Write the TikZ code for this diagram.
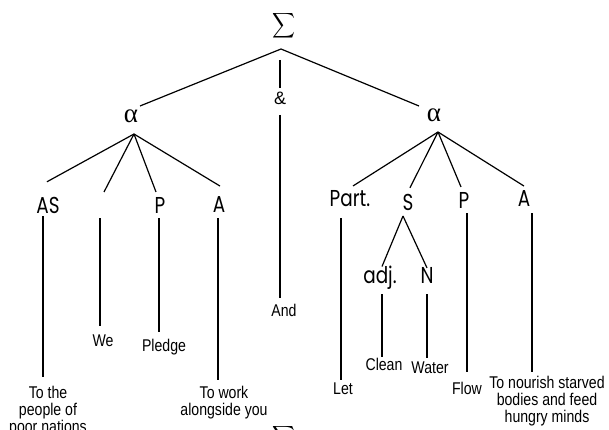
\documentclass[tikz,border=0pt]{standalone}
\usepackage{fontspec}
\usetikzlibrary{calc}
\newfontfamily\leaffont{Liberation Sans}[FakeStretch=0.83]
\newfontfamily\lblfont{Poppins}[FakeStretch=0.8]
\newfontfamily\ampfont{Liberation Sans}
\newfontfamily\grkfont{Liberation Serif}
\begin{document}
\begin{tikzpicture}[x=1pt,y=-1pt, line width=1.2pt,
 leaf/.style={inner sep=0pt, outer sep=0pt, align=center, anchor=north, font=\leaffont\fontsize{17}{17}\selectfont},
 lbl/.style={inner sep=0pt, outer sep=0pt, anchor=base, font=\lblfont\fontsize{23}{23}\selectfont},
 greek/.style={inner sep=0pt, outer sep=0pt},
 alph/.style={inner sep=0pt, outer sep=0pt, font=\grkfont\fontsize{27}{27}\selectfont}]
\useasboundingbox (0,0) rectangle (609,430);
\fill[white] (0,0) rectangle (609,430);
\clip (0,0) rectangle (609,430);
% greek nodes
\node[greek] (sig) at (283.5,26) {\resizebox*{23pt}{28pt}{$\displaystyle\sum$}};
\node[alph] (alL) at (131,116.5) {α};
\node[alph] (alR) at (434,115.5) {α};
\node[inner sep=0pt, outer sep=0pt, anchor=base, font=\ampfont\fontsize{18}{18}\selectfont] (amp) at (280,105) {\&};
\node[greek, anchor=north] (sig2) at (284,425) {\resizebox*{23pt}{28pt}{$\displaystyle\sum$}};
% labels
\node[lbl] (AS) at (48,213) {AS};
\node[lbl] (PL) at (160,213) {P};
\node[lbl] (AL) at (219,212) {A};
\node[lbl] (Part) at (350,207) {Part.};
\node[lbl] (S) at (408,210) {S};
\node[lbl] (PR) at (464,208) {P};
\node[lbl] (AR) at (524,207) {A};
\node[lbl] (adj) at (380,283) {adj.};
\node[lbl] (N) at (427,283) {N};
% leaves
\node[leaf] (leafAS) at (48,386) {To the\\people of\\poor nations};
\node[leaf] (We) at (103,335) {We};
\node[leaf] (Pledge) at (164,339) {Pledge};
\node[leaf] (leafA) at (224,386) {To work\\alongside you};
\node[leaf] (And) at (284,304) {And};
\node[leaf] (Let) at (343,383) {Let};
\node[leaf] (Clean) at (384,358) {Clean};
\node[leaf] (Water) at (430,362) {Water};
\node[leaf] (Flow) at (467,382) {Flow};
\node[leaf] (nourish) at (547,376) {To nourish starved\\bodies and feed\\hungry minds};
% junctions
\coordinate (sigb) at ($(sig.south)+(-2.5,9)$);
\coordinate (alLb) at ($(alL.center)+(3,17.5)$);
\coordinate (alRb) at ($(alR.center)+(4,16.5)$);
\coordinate (Sb) at ($(S.base)+(-5,6)$);
\coordinate (weslot) at (104,192);
% top level
\draw (sigb) -- ($(alL.center)+(9,-10.5)$);
\draw (sigb) -- ($(alR.center)+(-15,-9.5)$);
\draw ($(sig.south)+(-3.5,20)$) -- ($(amp.base)+(0,-17)$);
\draw ($(amp.base)+(0,10)$) -- ($(And.north)+(-4,-6)$);
% left alpha
\draw (alLb) -- ($(AS.north)+(-1,-15)$);
\draw (alLb) -- (weslot);
\draw (alLb) -- ($(PL.north)+(-4,-5)$);
\draw (alLb) -- ($(AL.north)+(1,-10)$);
% right alpha
\draw (alRb) -- ($(Part.north)+(3,-5)$);
\draw (alRb) -- ($(S.north)+(2,-6)$);
\draw (alRb) -- ($(PR.north)+(-3,-5)$);
\draw (alRb) -- ($(AR.north)+(0,-5)$);
% stems
\draw ($(AS.south)+(-5,3)$) -- ($(leafAS.north)+(-5,-9)$);
\draw ($(weslot)+(-4,26)$) -- ($(We.north)+(-3,-9)$);
\draw ($(PL.south)+(-1,5)$) -- ($(Pledge.north)+(-5,-7)$);
\draw ($(AL.south)+(-1,6)$) -- ($(leafA.north)+(-6,-6)$);
\draw ($(Part.south)+(-9,11)$) -- ($(Let.north)+(-2,-3)$);
\draw (Sb) -- ($(adj.north)+(2,1)$);
\draw (Sb) -- ($(N.north)+(0,1)$);
\draw ($(adj.base)+(2,11)$) -- ($(Clean.north)+(-2,-1)$);
\draw ($(N.base)+(0,11)$) -- ($(Water.north)+(-3,-4)$);
\draw ($(PR.south)+(3,5)$) -- ($(Flow.north)+(0,-10)$);
\draw ($(AR.south)+(8,6)$) -- ($(nourish.north)+(-15,-4)$);
\end{tikzpicture}
\end{document}
